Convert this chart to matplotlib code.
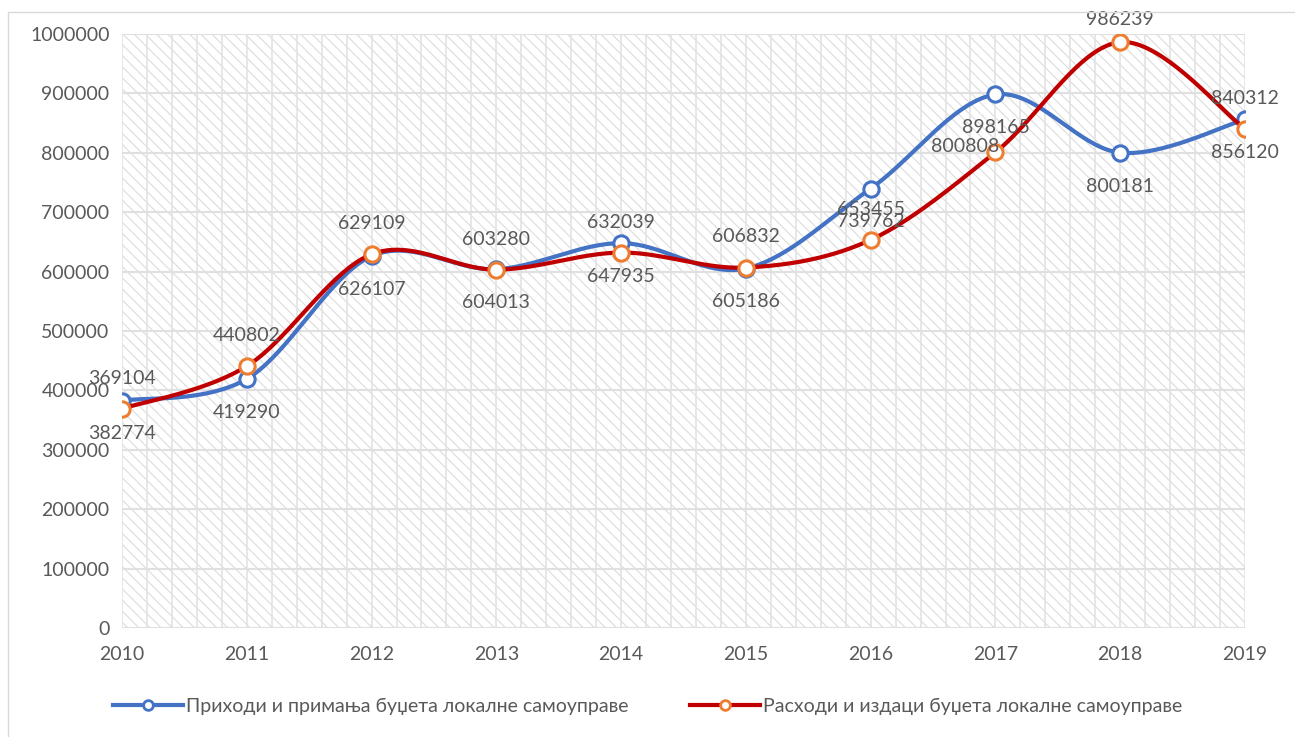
import numpy as np
import matplotlib
matplotlib.use("Agg")
import matplotlib.pyplot as plt
from matplotlib.patches import Rectangle
from matplotlib.ticker import MultipleLocator

plt.rcParams["font.family"] = ["Lato", "DejaVu Sans"]
plt.rcParams["hatch.color"] = "#dcdcdc"
plt.rcParams["hatch.linewidth"] = 0.8

# ── Подаци ─────────────────────────────────────────────────────────────
years = [2010, 2011, 2012, 2013, 2014, 2015, 2016, 2017, 2018, 2019]
prihodi = [382774, 419290, 626107, 604013, 647935, 605186, 739762, 898165, 800181, 856120]
rashodi = [369104, 440802, 629109, 603280, 632039, 606832, 653455, 800808, 986239, 840312]

label_prihodi = "Приходи и примања буџета локалне самоуправе"
label_rashodi = "Расходи и издаци буџета локалне самоуправе"

BLUE = "#4472C4"
RED = "#C00000"
ORANGE = "#ED7D31"
TEXT = "#595959"
FS = 14


def smooth(x, y, n=40):
    """Excel-like smoothed line (Catmull-Rom -> Bezier)."""
    x = np.asarray(x, float)
    y = np.asarray(y, float)
    px = np.concatenate([[x[0]], x, [x[-1]]])
    py = np.concatenate([[y[0]], y, [y[-1]]])
    xs, ys = [], []
    t = np.linspace(0, 1, n)
    for i in range(1, len(px) - 2):
        p0 = np.array([px[i], py[i]])
        p3 = np.array([px[i + 1], py[i + 1]])
        c1 = p0 + (np.array([px[i + 1], py[i + 1]]) - np.array([px[i - 1], py[i - 1]])) / 6
        c2 = p3 - (np.array([px[i + 2], py[i + 2]]) - np.array([px[i], py[i]])) / 6
        b = ((1 - t) ** 3)[:, None] * p0 + (3 * (1 - t) ** 2 * t)[:, None] * c1 \
            + (3 * (1 - t) * t ** 2)[:, None] * c2 + (t ** 3)[:, None] * p3
        xs.append(b[:, 0])
        ys.append(b[:, 1])
    return np.concatenate(xs), np.concatenate(ys)


fig = plt.figure(figsize=(12.95, 7.37), dpi=100)
ax = fig.add_axes([122 / 1295, 1 - 628 / 737, (1245 - 122) / 1295, (628 - 34) / 737])

# оквир графикона
fig.add_artist(Rectangle((8 / 1295, -0.1), 1.2, 1 - 12 / 737 + 0.1, transform=fig.transFigure,
                         fill=False, edgecolor="#d9d9d9", linewidth=1.0))

ax.set_xlim(years[0], years[-1])
ax.set_ylim(0, 1000000)

# шрафирана позадина
ax.add_patch(Rectangle((0, 0), 1, 1, transform=ax.transAxes, facecolor="white",
                       hatch="\\\\\\", edgecolor="#dcdcdc", linewidth=0, zorder=0))

ax.yaxis.set_major_locator(MultipleLocator(100000))
ax.xaxis.set_major_locator(MultipleLocator(1))
ax.xaxis.set_minor_locator(MultipleLocator(0.2))
ax.grid(True, which="major", axis="y", color="#e0e0e0", linewidth=1.5, zorder=1)
ax.grid(True, which="both", axis="x", color="#e3e3e3", linewidth=1.2, zorder=1)
for s in ax.spines.values():
    s.set_visible(False)
ax.tick_params(which="both", length=0)
ax.tick_params(axis="y", labelsize=FS, labelcolor=TEXT, pad=9)
ax.tick_params(axis="x", labelsize=FS, labelcolor=TEXT, pad=13)
ax.set_yticklabels([f"{int(v)}" for v in ax.get_yticks()])

sx, sy = smooth(years, prihodi)
ax.plot(sx, sy, color=BLUE, linewidth=3, zorder=3, solid_capstyle="round")
ax.plot(years, prihodi, linestyle="none", marker="o", markersize=11, markerfacecolor="white",
        markeredgecolor=BLUE, markeredgewidth=2.2, zorder=4)

sx, sy = smooth(years, rashodi)
ax.plot(sx, sy, color=RED, linewidth=3, zorder=5, solid_capstyle="round")
ax.plot(years, rashodi, linestyle="none", marker="o", markersize=11, markerfacecolor="white",
        markeredgecolor=ORANGE, markeredgewidth=2.2, zorder=6)

# ознаке података: приходи испод, расходи изнад
for x, v in zip(years, prihodi):
    ax.annotate(str(v), (x, v), xytext=(0, -24), textcoords="offset points",
                ha="center", va="center", fontsize=FS, color=TEXT, zorder=7)
for x, v in zip(years, rashodi):
    dx, dy = 0, 22
    if x == 2017:
        dx, dy = -22, 4
    if x == 2018:
        dy = 16
    ax.annotate(str(v), (x, v), xytext=(dx, dy), textcoords="offset points",
                ha="center", va="center", fontsize=FS, color=TEXT, zorder=7)

h1 = plt.Line2D([], [], color=BLUE, linewidth=3, marker="o", markersize=7,
                markerfacecolor="white", markeredgecolor=BLUE, markeredgewidth=2)
h2 = plt.Line2D([], [], color=RED, linewidth=3, marker="o", markersize=7,
                markerfacecolor="white", markeredgecolor=ORANGE, markeredgewidth=2)
fig.legend([h1, h2], [label_prihodi, label_rashodi], loc="center", ncol=2,
           bbox_to_anchor=(0.5, 1 - 706 / 737), frameon=False, fontsize=FS,
           handlelength=3.6, handletextpad=0.15, columnspacing=3.2, labelcolor=TEXT)

fig.savefig("out.png", dpi=100)
